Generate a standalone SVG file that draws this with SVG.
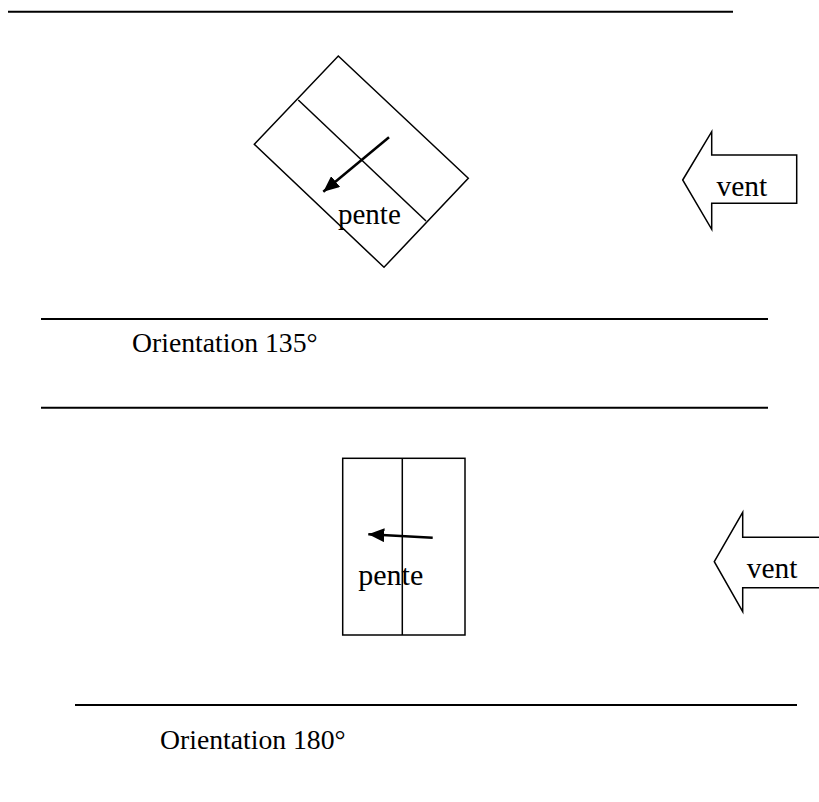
<svg xmlns="http://www.w3.org/2000/svg" width="819" height="802" viewBox="0 0 819 802">
<style>
.ln{stroke:#000;stroke-width:2;fill:none}
.sh{stroke:#000;stroke-width:1.5;fill:#fff}
.dv{stroke:#000;stroke-width:1.5;fill:none}
.ar{stroke:#000;stroke-width:2.5;fill:none;marker-end:url(#ah)}
.t{font-family:"Liberation Serif","Times New Roman",serif;fill:#000}
</style>
<defs>
<marker id="ah" markerUnits="userSpaceOnUse" markerWidth="18" markerHeight="14" refX="16" refY="7" orient="auto">
<path d="M0,0 L16,7 L0,14 Z" fill="#000"/>
</marker>
</defs>
<g id="lines">
<line class="ln" x1="8" y1="11.7" x2="733" y2="11.7"/>
<line class="ln" x1="41" y1="319" x2="768" y2="319"/>
<line class="ln" x1="41" y1="407.7" x2="768" y2="407.7"/>
<line class="ln" x1="75" y1="705" x2="797" y2="705"/>
</g>
<g id="roof135">
<polygon class="sh" points="338.3,56 468.3,178.3 384,267.3 254.3,144.3"/>
<line class="dv" x1="298.3" y1="100" x2="426" y2="221"/>
<text class="t" x="338" y="224" font-size="29">pente</text>
</g>
<g id="wind135">
<polygon class="sh" points="682.7,180 711.7,131.7 711.7,155 796.7,155 796.7,203.3 711.7,203.3 711.7,229.3"/>
<text class="t" x="716.5" y="196" font-size="29.5">vent</text>
</g>
<g id="label135">
<text class="t" x="132" y="351.7" font-size="27.7">Orientation 135°</text>
</g>
<g id="roof180">
<rect class="sh" x="342.7" y="458.3" width="122.3" height="176.7"/>
<line class="dv" x1="402.3" y1="458.3" x2="402.3" y2="635"/>
<text class="t" x="358.3" y="585" font-size="30">pente</text>
</g>
<g id="wind180">
<polygon class="sh" points="714.3,561.7 742.7,512.3 742.7,537.3 830,537.3 830,587.7 742.7,587.7 742.7,611.7"/>
<text class="t" x="746.7" y="577.7" font-size="29.5">vent</text>
</g>
<g id="label180">
<text class="t" x="160" y="749" font-size="27.7">Orientation 180°</text>
</g>
<g id="connectors">
<line class="ar" x1="389" y1="137.3" x2="323.3" y2="191.7"/>
<line class="ar" x1="432.7" y1="537.7" x2="368.3" y2="534.3"/>
</g>
</svg>
